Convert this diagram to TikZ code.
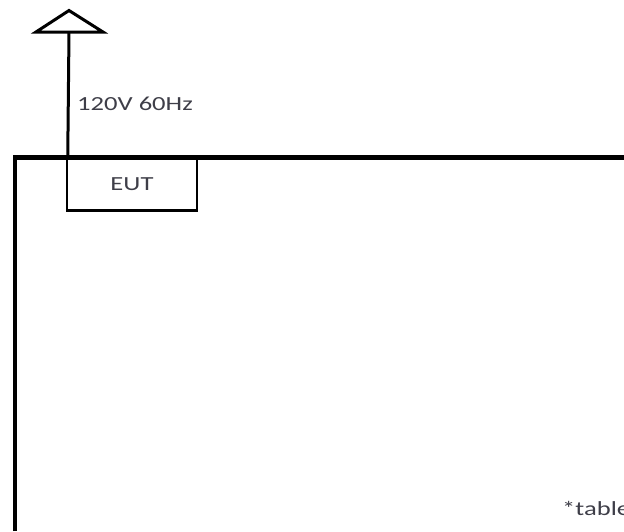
\documentclass[tikz,border=0pt]{standalone}
\usepackage{fontspec}
\setmainfont{Carlito}
\usetikzlibrary{positioning}
\definecolor{ink}{HTML}{3E3E48}
\newcommand{\wide}[1]{\scalebox{1.33}[1]{#1}}

\begin{document}
\begin{tikzpicture}[x=1pt,y=-1pt,
table/.style={line width=4.5pt},
eutbox/.style={draw,line width=2.5pt,minimum width=130pt,minimum height=53pt,inner sep=0pt,font=\fontsize{20}{24}\selectfont,text=ink},
lbl/.style={inner sep=0pt,font=\fontsize{20}{24}\selectfont,text=ink},
cable/.style={line width=3pt}
]
\useasboundingbox (0,0) rectangle (624,531);
% table outline
\draw[table] (15,531) -- (15,157.5) -- (624,157.5);
% equipment under test on the table
\node[eutbox] (eut) at (132,184) {\wide{EUT}};
% power cord and plug
\coordinate (plug) at (69,32);
\draw[cable] ([xshift=2pt]eut.north west) -- (plug);
\draw[cable,line join=miter] (36,32) -- (69,10.5) -- (103,32) -- cycle;
\node[lbl,anchor=base west] (pwr) at (77,110) {\wide{120V 60Hz}};
\node[lbl,anchor=base west] (note) at (562,515) {\wide{*table}};
\end{tikzpicture}
\end{document}
